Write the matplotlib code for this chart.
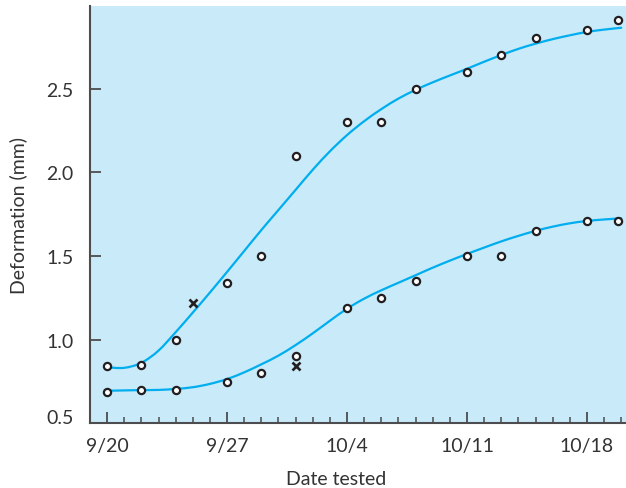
import matplotlib
matplotlib.use("Agg")
import matplotlib.pyplot as plt
from matplotlib.path import Path
from matplotlib.patches import PathPatch

# Days after 9/20
upper_days = [0, 2, 4, 7, 9, 11, 14, 16, 18, 21, 23, 25, 28, 29.8]
upper_vals = [0.84, 0.85, 1.00, 1.34, 1.50, 2.10, 2.30, 2.30, 2.50, 2.60, 2.70, 2.80, 2.85, 2.91]
upper_x_days = [5]
upper_x_vals = [1.22]

lower_days = [0, 2, 4, 7, 9, 11, 14, 16, 18, 21, 23, 25, 28, 29.8]
lower_vals = [0.69, 0.70, 0.70, 0.75, 0.80, 0.90, 1.19, 1.25, 1.35, 1.50, 1.50, 1.65, 1.71, 1.71]
lower_x_days = [11]
lower_x_vals = [0.84]

# Fitted curves
curve_days = list(range(0, 31))
upper_curve = [0.835, 0.832, 0.862, 0.935, 1.045, 1.162, 1.282, 1.405, 1.53, 1.655,
               1.775, 1.895, 2.015, 2.125, 2.222, 2.305, 2.377, 2.44, 2.492, 2.537,
               2.578, 2.618, 2.66, 2.7, 2.737, 2.768, 2.795, 2.818, 2.838, 2.852, 2.863]
lower_curve = [0.695, 0.697, 0.699, 0.70, 0.706, 0.716, 0.736, 0.765, 0.805, 0.853,
               0.905, 0.968, 1.038, 1.113, 1.185, 1.245, 1.295, 1.34, 1.385, 1.43,
               1.472, 1.512, 1.55, 1.587, 1.62, 1.65, 1.675, 1.695, 1.709, 1.718, 1.725]

xtick_pos = [0, 7, 14, 21, 28]
xtick_labels = ["9/20", "9/27", "10/4", "10/11", "10/18"]
ytick_pos = [0.5, 1.0, 1.5, 2.0, 2.5]
ytick_labels = ["0.5", "1.0", "1.5", "2.0", "2.5"]

plt.rcParams['font.family'] = ['Lato', 'DejaVu Sans']

BG = "#c8eaf9"
CYAN = "#00aeef"
DARK = "#231f20"
SPINE = "#4d4d4f"
TXT = "#333333"


def smooth_path(xs, ys):
    """Catmull-Rom through the read curve points, drawn as cubic Bezier segments."""
    pts = list(zip(xs, ys))
    n = len(pts)
    verts = [pts[0]]
    codes = [Path.MOVETO]
    for i in range(n - 1):
        p0 = pts[i - 1] if i > 0 else pts[i]
        p1 = pts[i]
        p2 = pts[i + 1]
        p3 = pts[i + 2] if i + 2 < n else pts[i + 1]
        c1 = (p1[0] + (p2[0] - p0[0]) / 6, p1[1] + (p2[1] - p0[1]) / 6)
        c2 = (p2[0] - (p3[0] - p1[0]) / 6, p2[1] - (p3[1] - p1[1]) / 6)
        verts += [c1, c2, p2]
        codes += [Path.CURVE4] * 3
    return Path(verts, codes)


fig = plt.figure(figsize=(6.26, 4.89), dpi=100)
ax = fig.add_axes([90/626, (489-424.4)/489, 1 - 90/626, (424.4-7)/489])
ax.set_facecolor(BG)

for yc in (upper_curve, lower_curve):
    ax.add_patch(PathPatch(smooth_path(curve_days, yc), facecolor='none',
                           edgecolor=CYAN, lw=1.6, capstyle='round', zorder=2))

for d, v in ((upper_days, upper_vals), (lower_days, lower_vals)):
    ax.plot(d, v, ls='none', marker='o', ms=5.2, mfc='white', mec=DARK, mew=1.6, zorder=3)
for d, v in ((upper_x_days, upper_x_vals), (lower_x_days, lower_x_vals)):
    ax.plot(d, v, ls='none', marker='x', ms=6, mec=DARK, mew=1.9, zorder=3)

ax.set_xlim(-1, 30.28)
ax.set_ylim(0.5, 2.993)

for s in ('top', 'right'):
    ax.spines[s].set_visible(False)
for s in ('left', 'bottom'):
    ax.spines[s].set_color(SPINE)
    ax.spines[s].set_linewidth(1.5)

ax.set_xticks(xtick_pos)
ax.set_xticklabels(xtick_labels)
ax.set_xticks(list(range(0, 31)), minor=True)
ax.set_yticks(ytick_pos)
ax.set_yticklabels(ytick_labels)

ax.tick_params(axis='both', which='major', direction='in', length=8, width=1.3,
               color=SPINE, labelcolor=TXT, labelsize=14, pad=10)
ax.tick_params(axis='x', which='minor', direction='in', length=4, width=1.1, color=SPINE)
ax.tick_params(axis='y', which='major', pad=12)

ylabs = ax.get_yticklabels()
ylabs[0].set_verticalalignment('baseline')

ax.set_xlabel("Date tested", fontsize=14, color=TXT)
ax.xaxis.set_label_coords((336-90)/536, -(480-424.4)/417.4)
ax.xaxis.label.set_verticalalignment('center')
ax.set_ylabel("Deformation (mm)", fontsize=14, color=TXT)
ax.yaxis.set_label_coords(-(90-18)/536, 0.5)
ax.yaxis.label.set_verticalalignment('center')

fig.savefig("out.png", dpi=100, facecolor='white')
